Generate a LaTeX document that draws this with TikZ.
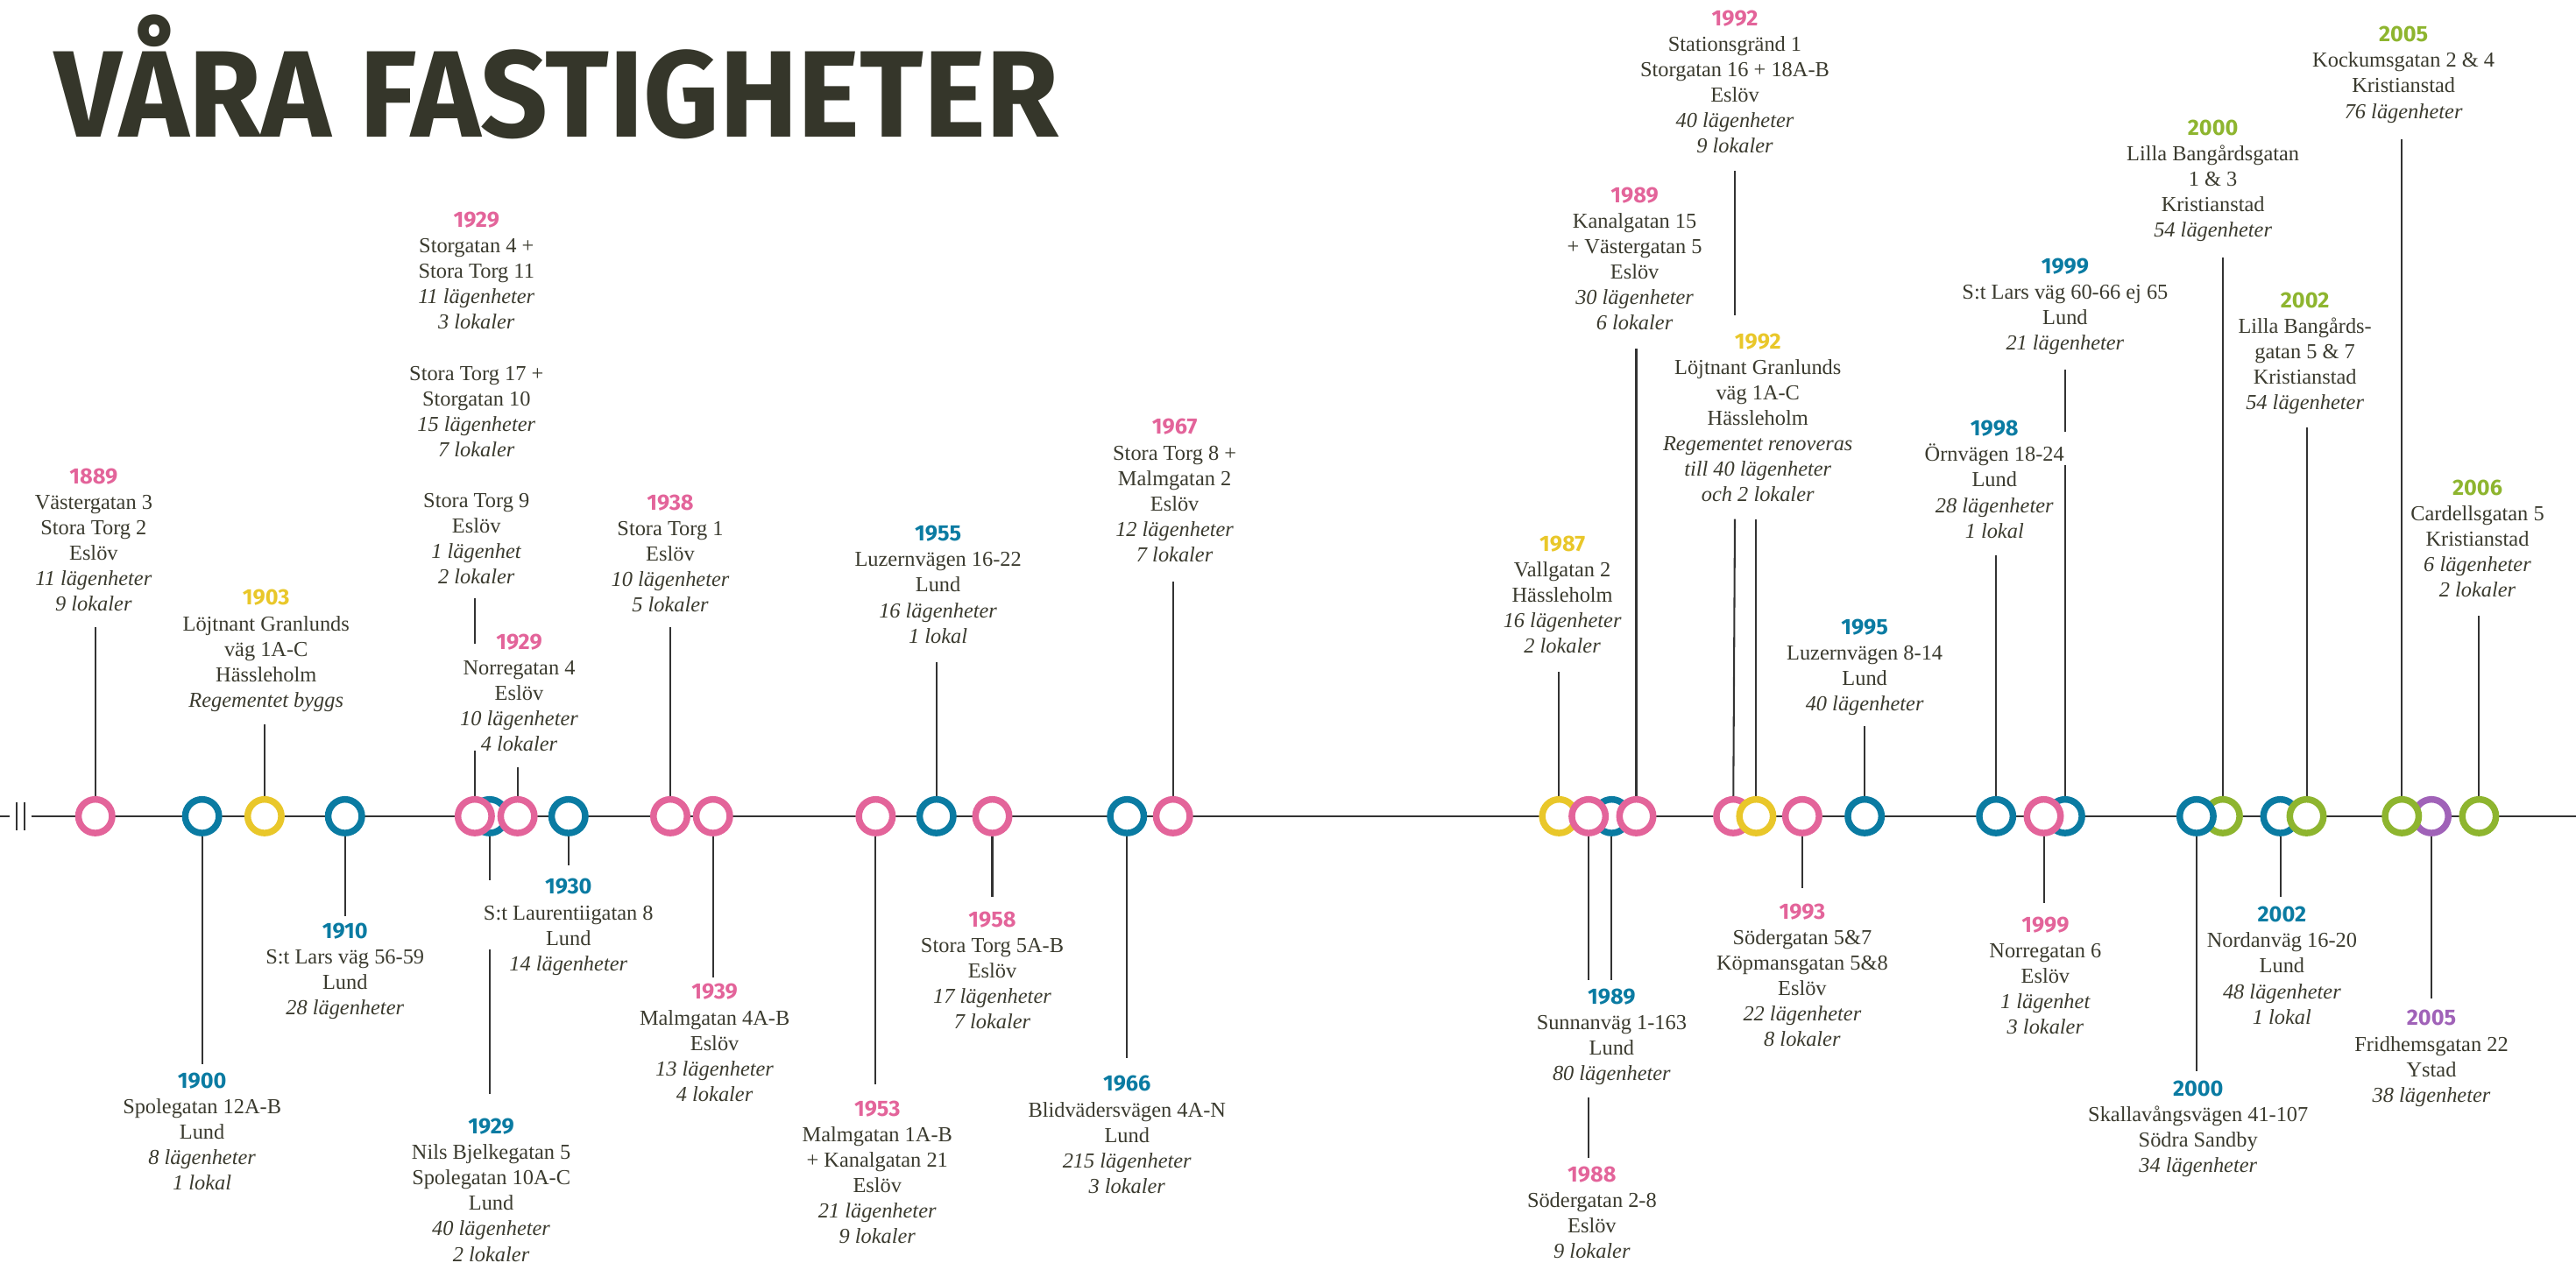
\documentclass[tikz,border=0pt]{standalone}
\usepackage{fontspec}
\usepackage{graphicx}
\setmainfont{Liberation Serif}
\newfontfamily\yrfont{Fira Sans}
\newfontfamily\ttlfont{Fira Sans}
\definecolor{cpink}{HTML}{E3649A}
\definecolor{cblue}{HTML}{0A7BA2}
\definecolor{cyellow}{HTML}{E9C72A}
\definecolor{cgreen}{HTML}{8EB52F}
\definecolor{cpurple}{HTML}{A062B8}
\definecolor{ctext}{HTML}{3A3A2E}
\definecolor{ctitle}{HTML}{35362A}
\definecolor{cline}{HTML}{333333}
\newcommand\yr[2]{{\yrfont\bfseries\fontsize{13.5}{15.5}\selectfont\color{#1}#2}}
\newcommand\lgh[1]{\textit{#1}}
\pgfdeclarelayer{bg}
\pgfsetlayers{bg,main}
\tikzset{
  ring/.style={circle, line width=4pt, fill=white, minimum size=20.5pt, inner sep=0pt, outer sep=0pt},
  lbl/.style={align=center, inner sep=0pt, anchor=north, text=ctext, font=\fontsize{13}{15.5}\selectfont},
  conn/.style={draw=cline, line width=1.1pt},
}
\newcommand\cn[2]{\coordinate (#1e) at (#2); \draw[conn] (#1) -- (#1e);}
\newcommand\sg[3]{\coordinate (#1a) at (#2); \coordinate (#1b) at (#3); \draw[conn] (#1a) -- (#1b);}
\begin{document}
\begin{tikzpicture}[x=1pt,y=-1pt]
\useasboundingbox (0,0) rectangle (1568,769);
% title
\node[anchor=base west, inner sep=0pt, text=ctitle] (title) at (33,83.6)
  {\resizebox{611pt}{\height}{\ttlfont\bfseries\fontsize{75}{75}\selectfont VÅRA FASTIGHETER}};
% timeline
\coordinate (t0) at (0,497); \coordinate (t1) at (6,497);
\coordinate (t2) at (19,497); \coordinate (t3) at (1568,497);
\coordinate (k1a) at (10,488.5); \coordinate (k1b) at (10,505.5);
\coordinate (k2a) at (15,488.5); \coordinate (k2b) at (15,505.5);
% rings (back to front)
\node[ring,draw=cpink] (c1889) at (58,497) {};
\node[ring,draw=cblue] (c1900) at (123,497) {};
\node[ring,draw=cyellow] (c1903) at (161,497) {};
\node[ring,draw=cblue] (c1910) at (210,497) {};
\node[ring,draw=cblue] (c1929b) at (298,497) {};
\node[ring,draw=cpink] (c1929a) at (289,497) {};
\node[ring,draw=cpink] (c1929n) at (315,497) {};
\node[ring,draw=cblue] (c1930) at (346,497) {};
\node[ring,draw=cpink] (c1938) at (408,497) {};
\node[ring,draw=cpink] (c1939) at (434,497) {};
\node[ring,draw=cpink] (c1953) at (533,497) {};
\node[ring,draw=cblue] (c1955) at (570,497) {};
\node[ring,draw=cpink] (c1958) at (604,497) {};
\node[ring,draw=cblue] (c1966) at (686,497) {};
\node[ring,draw=cpink] (c1967) at (714,497) {};
\node[ring,draw=cyellow] (c1987) at (949,497) {};
\node[ring,draw=cblue] (c1989s) at (981,497) {};
\node[ring,draw=cpink] (c1989k) at (996,497) {};
\node[ring,draw=cpink] (c1988) at (967,497) {};
\node[ring,draw=cpink] (c1992p) at (1055,497) {};
\node[ring,draw=cyellow] (c1992y) at (1069,497) {};
\node[ring,draw=cpink] (c1993) at (1097,497) {};
\node[ring,draw=cblue] (c1995) at (1135,497) {};
\node[ring,draw=cblue] (c1998) at (1215,497) {};
\node[ring,draw=cblue] (c1999b) at (1257,497) {};
\node[ring,draw=cpink] (c1999p) at (1244,497) {};
\node[ring,draw=cgreen] (c2000g) at (1353,497) {};
\node[ring,draw=cblue] (c2000b) at (1337,497) {};
\node[ring,draw=cblue] (c2002b) at (1388,497) {};
\node[ring,draw=cgreen] (c2002g) at (1404,497) {};
\node[ring,draw=cpurple] (c2005p) at (1480,497) {};
\node[ring,draw=cgreen] (c2005g) at (1462,497) {};
\node[ring,draw=cgreen] (c2006) at (1509,497) {};
% connectors
\begin{pgfonlayer}{bg}
\draw[conn] (t0) -- (t1);
\draw[conn] (t2) -- (t3);
\draw[conn] (k1a) -- (k1b);
\draw[conn] (k2a) -- (k2b);
\cn{c1889}{58,382}
\cn{c1903}{161,441}
\cn{c1929a}{289,457} \sg{s1929a}{289,364}{289,392}
\cn{c1929n}{315,467}
\cn{c1938}{408,382}
\cn{c1955}{570,403}
\cn{c1967}{714,354}
\cn{c1987}{949,409}
\cn{c1989k}{996,212}
\cn{c1992p}{1056,316} \sg{s1992p}{1056,104}{1056,192}
\cn{c1992y}{1069,316}
\cn{c1995}{1135,442}
\cn{c1998}{1215,338}
\cn{c1999b}{1257,283} \sg{s1999b}{1257,225}{1257,263}
\cn{c2000g}{1353,157}
\cn{c2002g}{1404,260}
\cn{c2005g}{1462,85}
\cn{c2006}{1509,375}
\cn{c1900}{123,648}
\cn{c1910}{210,558}
\cn{c1929b}{298,536} \sg{s1929b}{298,578}{298,666}
\cn{c1930}{346,527}
\cn{c1939}{434,595}
\cn{c1953}{533,660}
\cn{c1958}{604,546}
\cn{c1966}{686,644}
\cn{c1989s}{981,597}
\cn{c1988}{967,597} \sg{s1988}{967,668}{967,705}
\cn{c1993}{1097,541}
\cn{c1999p}{1244,550}
\cn{c2000b}{1337,652}
\cn{c2002b}{1388,546}
\cn{c2005p}{1480,608}
\end{pgfonlayer}
% labels above
\node[lbl] (L1889) at (57,285) {\yr{cpink}{1889}\\Västergatan 3\\Stora Torg 2\\Eslöv\\\lgh{11 lägenheter}\\\lgh{9 lokaler}};
\node[lbl] (L1903) at (162,359) {\yr{cyellow}{1903}\\Löjtnant Granlunds\\väg 1A-C\\Hässleholm\\\lgh{Regementet byggs}};
\node[lbl] (L1929a) at (290,129) {\yr{cpink}{1929}\\Storgatan 4 +\\Stora Torg 11\\\lgh{11 lägenheter}\\\lgh{3 lokaler}\\~\\Stora Torg 17 +\\Storgatan 10\\\lgh{15 lägenheter}\\\lgh{7 lokaler}\\~\\Stora Torg 9\\Eslöv\\\lgh{1 lägenhet}\\\lgh{2 lokaler}};
\node[lbl] (L1929n) at (316,386) {\yr{cpink}{1929}\\Norregatan 4\\Eslöv\\\lgh{10 lägenheter}\\\lgh{4 lokaler}};
\node[lbl] (L1938) at (408,301) {\yr{cpink}{1938}\\Stora Torg 1\\Eslöv\\\lgh{10 lägenheter}\\\lgh{5 lokaler}};
\node[lbl] (L1955) at (571,320) {\yr{cblue}{1955}\\Luzernvägen 16-22\\Lund\\\lgh{16 lägenheter}\\\lgh{1 lokal}};
\node[lbl] (L1967) at (715,255) {\yr{cpink}{1967}\\Stora Torg 8 +\\Malmgatan 2\\Eslöv\\\lgh{12 lägenheter}\\\lgh{7 lokaler}};
\node[lbl] (L1987) at (951,326) {\yr{cyellow}{1987}\\Vallgatan 2\\Hässleholm\\\lgh{16 lägenheter}\\\lgh{2 lokaler}};
\node[lbl] (L1989k) at (995,114) {\yr{cpink}{1989}\\Kanalgatan 15\\+ Västergatan 5\\Eslöv\\\lgh{30 lägenheter}\\\lgh{6 lokaler}};
\node[lbl] (L1992p) at (1056,6) {\yr{cpink}{1992}\\Stationsgränd 1\\Storgatan 16 + 18A-B\\Eslöv\\\lgh{40 lägenheter}\\\lgh{9 lokaler}};
\node[lbl] (L1992y) at (1070,203) {\yr{cyellow}{1992}\\Löjtnant Granlunds\\väg 1A-C\\Hässleholm\\\lgh{Regementet renoveras}\\\lgh{till 40 lägenheter}\\\lgh{och 2 lokaler}};
\node[lbl] (L1995) at (1135,377) {\yr{cblue}{1995}\\Luzernvägen 8-14\\Lund\\\lgh{40 lägenheter}};
\node[lbl] (L1998) at (1214,256) {\yr{cblue}{1998}\\Örnvägen 18-24\\Lund\\\lgh{28 lägenheter}\\\lgh{1 lokal}};
\node[lbl] (L1999b) at (1257,157) {\yr{cblue}{1999}\\S:t Lars väg 60-66 ej 65\\Lund\\\lgh{21 lägenheter}};
\node[lbl] (L2000g) at (1347,73) {\yr{cgreen}{2000}\\Lilla Bangårdsgatan\\1 \& 3\\Kristianstad\\\lgh{54 lägenheter}};
\node[lbl] (L2002g) at (1403,178) {\yr{cgreen}{2002}\\Lilla Bangårds-\\gatan 5 \& 7\\Kristianstad\\\lgh{54 lägenheter}};
\node[lbl] (L2005g) at (1463,16) {\yr{cgreen}{2005}\\Kockumsgatan 2 \& 4\\Kristianstad\\\lgh{76 lägenheter}};
\node[lbl] (L2006) at (1508,292) {\yr{cgreen}{2006}\\Cardellsgatan 5\\Kristianstad\\\lgh{6 lägenheter}\\\lgh{2 lokaler}};
% labels below
\node[lbl] (L1900) at (123,653) {\yr{cblue}{1900}\\Spolegatan 12A-B\\Lund\\\lgh{8 lägenheter}\\\lgh{1 lokal}};
\node[lbl] (L1910) at (210,562) {\yr{cblue}{1910}\\S:t Lars väg 56-59\\Lund\\\lgh{28 lägenheter}};
\node[lbl] (L1929b) at (299,681) {\yr{cblue}{1929}\\Nils Bjelkegatan 5\\Spolegatan 10A-C\\Lund\\\lgh{40 lägenheter}\\\lgh{2 lokaler}};
\node[lbl] (L1930) at (346,535) {\yr{cblue}{1930}\\S:t Laurentiigatan 8\\Lund\\\lgh{14 lägenheter}};
\node[lbl] (L1939) at (435,599) {\yr{cpink}{1939}\\Malmgatan 4A-B\\Eslöv\\\lgh{13 lägenheter}\\\lgh{4 lokaler}};
\node[lbl] (L1953) at (534,670) {\yr{cpink}{1953}\\Malmgatan 1A-B\\+ Kanalgatan 21\\Eslöv\\\lgh{21 lägenheter}\\\lgh{9 lokaler}};
\node[lbl] (L1958) at (604,555) {\yr{cpink}{1958}\\Stora Torg 5A-B\\Eslöv\\\lgh{17 lägenheter}\\\lgh{7 lokaler}};
\node[lbl] (L1966) at (686,655) {\yr{cblue}{1966}\\Blidvädersvägen 4A-N\\Lund\\\lgh{215 lägenheter}\\\lgh{3 lokaler}};
\node[lbl] (L1989s) at (981,602) {\yr{cblue}{1989}\\Sunnanväg 1-163\\Lund\\\lgh{80 lägenheter}};
\node[lbl] (L1988) at (969,710) {\yr{cpink}{1988}\\Södergatan 2-8\\Eslöv\\\lgh{9 lokaler}};
\node[lbl] (L1993) at (1097,550) {\yr{cpink}{1993}\\Södergatan 5\&7\\Köpmansgatan 5\&8\\Eslöv\\\lgh{22 lägenheter}\\\lgh{8 lokaler}};
\node[lbl] (L1999p) at (1245,558) {\yr{cpink}{1999}\\Norregatan 6\\Eslöv\\\lgh{1 lägenhet}\\\lgh{3 lokaler}};
\node[lbl] (L2000b) at (1338,658) {\yr{cblue}{2000}\\Skallavångsvägen 41-107\\Södra Sandby\\\lgh{34 lägenheter}};
\node[lbl] (L2002b) at (1389,552) {\yr{cblue}{2002}\\Nordanväg 16-20\\Lund\\\lgh{48 lägenheter}\\\lgh{1 lokal}};
\node[lbl] (L2005p) at (1480,615) {\yr{cpurple}{2005}\\Fridhemsgatan 22\\Ystad\\\lgh{38 lägenheter}};
\end{tikzpicture}
\end{document}
